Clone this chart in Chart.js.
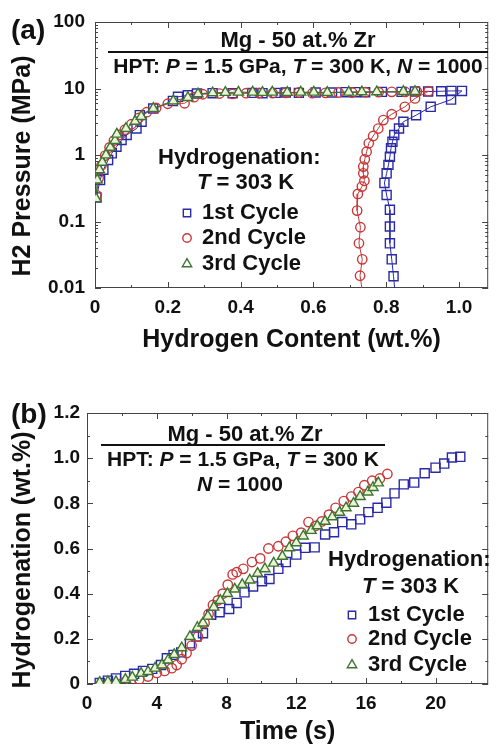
<!DOCTYPE html>
<html>
<head>
<meta charset="utf-8">
<script src="https://cdn.jsdelivr.net/npm/chart.js@4.4.1/dist/chart.umd.min.js"></script>
<style>
  html, body { margin: 0; padding: 0; background: #fff; }
  #wrap { position: relative; width: 496px; height: 746px; }
  canvas { position: absolute; left: 0; }
</style>
</head>
<body>
<div id="wrap">
  <canvas id="chartA" width="496" height="372" style="top:0"></canvas>
  <canvas id="chartB" width="496" height="374" style="top:372px"></canvas>
</div>
<script>
// (a) hydrogen content (wt.%) vs H2 pressure (MPa)
const contA1 = [0.004, 0.014, 0.023, 0.036, 0.046, 0.059, 0.073, 0.087, 0.114, 0.128, 0.123, 0.160, 0.214, 0.228, 0.255,
  0.280, 0.323, 0.378, 0.432, 0.460, 0.496, 0.524, 0.560, 0.606, 0.651, 0.688, 0.715, 0.742, 0.788, 0.842, 0.879, 0.915,
  0.951, 0.979, 1.008, 0.978, 0.922, 0.882, 0.847, 0.835, 0.822, 0.817, 0.813, 0.810, 0.806, 0.801, 0.795, 0.801, 0.810,
  0.810, 0.810, 0.815, 0.820, 0.823];
const presA1 = [0.23, 0.42, 0.60, 0.84, 1.06, 1.33, 1.68, 2.0, 2.5, 3.16, 3.98, 5.0, 6.5, 7.5, 7.9,
  8.4, 8.5, 8.5, 8.6, 8.5, 8.6, 8.7, 8.6, 8.7, 8.7, 8.8, 8.8, 8.8, 8.9, 8.9, 9.0, 9.0,
  9.1, 9.2, 9.2, 6.8, 5.3, 3.97, 3.16, 2.5, 2.0, 1.58, 1.26, 0.94, 0.71, 0.53, 0.38, 0.25, 0.15,
  0.084, 0.047, 0.027, 0.015, 0.01];

const contA2 = [0.004, 0.010, 0.018, 0.028, 0.040, 0.052, 0.066, 0.082, 0.100, 0.120, 0.142, 0.168, 0.200, 0.246, 0.272,
  0.296, 0.342, 0.378, 0.415, 0.451, 0.488, 0.524, 0.560, 0.597, 0.633, 0.669, 0.706, 0.742, 0.779, 0.815, 0.852, 0.884,
  0.916, 0.879, 0.851, 0.815, 0.792, 0.778, 0.764, 0.752, 0.746, 0.741, 0.737, 0.737, 0.740, 0.733, 0.722, 0.720, 0.729,
  0.725, 0.734, 0.728, 0.733];
const presA2 = [0.25, 0.45, 0.70, 0.98, 1.30, 1.65, 2.0, 2.4, 2.9, 3.6, 4.4, 5.1, 5.9, 6.0, 7.4,
  8.2, 8.4, 8.3, 8.5, 8.6, 8.5, 8.6, 8.7, 8.5, 8.6, 8.7, 8.7, 8.8, 8.8, 8.9, 8.9, 9.0,
  9.1, 7.1, 5.3, 4.1, 3.35, 2.5, 1.93, 1.5, 1.12, 0.86, 0.67, 0.53, 0.41, 0.335, 0.26, 0.146, 0.082,
  0.047, 0.027, 0.0153, 0.01];

const contA3 = [0.003, 0.006, 0.012, 0.020, 0.030, 0.042, 0.055, 0.060, 0.085, 0.110, 0.127, 0.160, 0.215, 0.255, 0.283,
  0.323, 0.358, 0.394, 0.433, 0.460, 0.487, 0.528, 0.565, 0.601, 0.638, 0.697, 0.733, 0.774, 0.847, 0.879];
const presA3 = [0.22, 0.42, 0.60, 0.78, 1.0, 1.3, 1.65, 2.05, 2.5, 3.2, 3.8, 5.0, 6.5, 7.3, 8.3,
  8.6, 8.7, 8.8, 8.8, 8.7, 8.8, 8.7, 8.8, 8.8, 8.7, 8.8, 8.9, 8.9, 9.0, 9.0];

// (b) time (s) vs hydrogenation (wt.%)
const timeB1 = [0.73, 1.2, 1.66, 2.19, 2.7, 3.21, 3.74, 4.24, 4.58, 4.96, 5.4, 5.9, 6.27, 6.65, 7.12, 7.6, 8.15, 8.58,
  9.03, 9.52, 10.03, 10.46, 10.97, 11.4, 12.0, 12.5, 13.05, 13.65, 14.16, 14.63, 15.15, 15.66, 16.13, 16.66, 17.16,
  17.63, 18.16, 18.76, 19.36, 19.98, 20.48, 20.92, 21.4];
const hydB1 = [0.004, 0.015, 0.025, 0.036, 0.045, 0.058, 0.067, 0.084, 0.114, 0.129, 0.14, 0.18, 0.21, 0.225, 0.307,
  0.318, 0.332, 0.359, 0.406, 0.432, 0.455, 0.465, 0.51, 0.54, 0.573, 0.603, 0.605, 0.662, 0.672, 0.717, 0.707, 0.729,
  0.761, 0.78, 0.803, 0.844, 0.884, 0.892, 0.933, 0.958, 0.976, 1.003, 1.006];

const timeB2 = [2.05, 2.5, 3.0, 3.5, 4.0, 4.45, 4.86, 5.14, 5.43, 5.71, 6.0, 6.36, 6.74, 6.97, 7.22, 7.5, 7.78, 8.07,
  8.35, 8.58, 8.96, 9.46, 9.93, 10.4, 10.97, 11.4, 11.8, 12.28, 12.7, 13.1, 13.46, 13.87, 14.25, 14.72, 15.15, 15.56,
  15.9, 16.35, 16.79, 17.22];
const hydB2 = [0.004, 0.01, 0.021, 0.033, 0.049, 0.058, 0.07, 0.084, 0.11, 0.137, 0.17, 0.21, 0.27, 0.31, 0.35, 0.37,
  0.40, 0.44, 0.485, 0.495, 0.51, 0.54, 0.556, 0.60, 0.61, 0.63, 0.656, 0.67, 0.717, 0.70, 0.72, 0.75, 0.78, 0.81,
  0.83, 0.85, 0.88, 0.90, 0.91, 0.93];

const timeB3 = [0.73, 1.2, 1.66, 2.2, 2.6, 3.1, 3.5, 3.9, 4.3, 4.65, 5.0, 5.43, 5.9, 6.33, 6.65, 6.93, 7.27, 7.64, 8.05,
  8.47, 8.9, 9.33, 9.78, 10.2, 10.7, 11.2, 11.6, 12.0, 12.4, 12.85, 13.2, 13.65, 14.06, 14.48, 14.85, 15.28, 15.66,
  16.1, 16.4, 16.7];
const hydB3 = [0.007, 0.01, 0.01, 0.02, 0.03, 0.047, 0.055, 0.07, 0.084, 0.106, 0.13, 0.16, 0.21, 0.25, 0.27, 0.30,
  0.34, 0.37, 0.40, 0.42, 0.44, 0.46, 0.49, 0.51, 0.535, 0.565, 0.603, 0.625, 0.655, 0.68, 0.70, 0.72, 0.74, 0.76,
  0.78, 0.80, 0.83, 0.85, 0.87, 0.89];

const seriesNames = ["1st Cycle", "2nd Cycle", "3rd Cycle"];

// ticks
const xTicksA = [0, 0.2, 0.4, 0.6, 0.8, 1.0];
const xLabelsA = ["0", "0.2", "0.4", "0.6", "0.8", "1.0"];
const xMinorA = [0.1, 0.3, 0.5, 0.7, 0.9];
const yTicksA = [0.01, 0.1, 1, 10, 100];
const yLabelsA = ["0.01", "0.1", "1", "10", "100"];
const xTicksB = [0, 4, 8, 12, 16, 20];
const xLabelsB = ["0", "4", "8", "12", "16", "20"];
const xMinorB = [2, 6, 10, 14, 18, 22];
const yTicksB = [0, 0.2, 0.4, 0.6, 0.8, 1.0, 1.2];
const yLabelsB = ["0", "0.2", "0.4", "0.6", "0.8", "1.0", "1.2"];
const yMinorB = [0.1, 0.3, 0.5, 0.7, 0.9, 1.1];

const yMinorA = [];
yTicksA.slice(0, -1).forEach(d => { for (let k = 2; k <= 9; k++) yMinorA.push(d * k); });

const FONT = "'Liberation Sans', Arial, sans-serif";
const INK = "#111";
const BLUE = "#2a2aa8";
const RED = "#c83838";
const GREEN = "#3c7530";
const GREEN_FILL = "#eef3d8";

const pts = (xs, ys) => xs.map((x, i) => ({ x: x, y: ys[i] }));

// frame with inward ticks on all four sides
const framePlugin = {
  id: "frame",
  beforeDatasetsDraw(chart, args, o) {
    const { ctx, chartArea: a, scales } = chart;
    ctx.save();
    ctx.strokeStyle = "#444";
    ctx.lineWidth = 1;
    ctx.strokeRect(a.left + 0.5, a.top + 0.5, a.right - a.left - 1, a.bottom - a.top - 1);
    const xt = (vals, len) => vals.forEach(v => {
      const p = Math.round(scales.x.getPixelForValue(v)) + 0.5;
      ctx.beginPath();
      ctx.moveTo(p, a.bottom); ctx.lineTo(p, a.bottom - len);
      ctx.moveTo(p, a.top); ctx.lineTo(p, a.top + len);
      ctx.stroke();
    });
    const yt = (vals, len) => vals.forEach(v => {
      const p = Math.round(scales.y.getPixelForValue(v)) + 0.5;
      ctx.beginPath();
      ctx.moveTo(a.left, p); ctx.lineTo(a.left + len, p);
      ctx.moveTo(a.right, p); ctx.lineTo(a.right - len, p);
      ctx.stroke();
    });
    xt(o.xMajor, 6); xt(o.xMinor, 3);
    yt(o.yMajor, 6); yt(o.yMinor, 3);
    ctx.restore();
  }
};

function drawText(ctx, parts, x, y, size, align) {
  const fontFor = it => (it ? "italic " : "") + "bold " + size + "px " + FONT;
  let w = 0;
  parts.forEach(p => { ctx.font = fontFor(p[1]); w += ctx.measureText(p[0]).width; });
  let cx = align === "center" ? x - w / 2 : x;
  ctx.textBaseline = "middle";
  ctx.textAlign = "left";
  ctx.fillStyle = INK;
  parts.forEach(p => {
    ctx.font = fontFor(p[1]);
    ctx.fillText(p[0], cx, y);
    cx += ctx.measureText(p[0]).width;
  });
}

function drawYTitle(ctx, text, x, y) {
  ctx.save();
  ctx.translate(x, y);
  ctx.rotate(-Math.PI / 2);
  ctx.font = "bold 25px " + FONT;
  ctx.fillStyle = INK;
  ctx.textAlign = "center";
  ctx.textBaseline = "middle";
  ctx.fillText(text, 0, 0);
  ctx.restore();
}

// marker looks: data size and legend size
const markerStyles = [
  { pointStyle: "rect", radius: 6.4, legend: 5.2, color: BLUE, fill: "rgba(255,255,255,0)" },
  { pointStyle: "circle", radius: 4.7, legend: 4.2, color: RED, fill: "rgba(255,255,255,0)" },
  { pointStyle: "triangle", radius: 5.8, legend: 5.4, color: GREEN, fill: GREEN_FILL }
];

function drawLegend(ctx, x0, ys, tx) {
  markerStyles.forEach((m, i) => {
    ctx.save();
    ctx.strokeStyle = m.color;
    ctx.fillStyle = "#fff";
    ctx.lineWidth = 1.4;
    Chart.helpers.drawPoint(ctx, { pointStyle: m.pointStyle, radius: m.legend, rotation: 0, borderWidth: 1.4 }, x0, ys[i]);
    ctx.restore();
    drawText(ctx, [[seriesNames[i], false]], tx, ys[i], 22, "left");
  });
}

function hline(ctx, x1, x2, y) {
  ctx.save();
  ctx.strokeStyle = INK;
  ctx.lineWidth = 2;
  ctx.beginPath(); ctx.moveTo(x1, y); ctx.lineTo(x2, y); ctx.stroke();
  ctx.restore();
}

const notesA = {
  id: "notesA",
  afterDraw(chart) {
    const ctx = chart.ctx;
    drawText(ctx, [["(a)", false]], 11, 31, 28, "left");
    drawYTitle(ctx, "H2 Pressure (MPa)", 23, 166);
    drawText(ctx, [["Mg - 50 at.% Zr", false]], 298, 41, 22, "center");
    hline(ctx, 108, 488, 52);
    drawText(ctx, [["HPT: ", false], ["P", true], [" = 1.5 GPa, ", false], ["T", true], [" = 300 K, ", false],
      ["N", true], [" = 1000", false]], 298, 67, 21, "center");
    drawText(ctx, [["Hydrogenation:", false]], 158, 158, 22, "left");
    drawText(ctx, [["T", true], [" = 303 K", false]], 197, 183, 22, "left");
    drawLegend(ctx, 187, [213, 238, 264], 202);
  }
};

const notesB = {
  id: "notesB",
  afterDraw(chart) {
    const ctx = chart.ctx;
    drawText(ctx, [["(b)", false]], 11, 43, 28, "left");
    drawYTitle(ctx, "Hydrogenation (wt.%)", 23, 188);
    drawText(ctx, [["Mg - 50 at.% Zr", false]], 245, 63, 22, "center");
    hline(ctx, 101, 385, 73);
    drawText(ctx, [["HPT: ", false], ["P", true], [" = 1.5 GPa, ", false], ["T", true], [" = 300 K", false]],
      243, 88, 21, "center");
    drawText(ctx, [["N", true], [" = 1000", false]], 240, 113, 21, "center");
    drawText(ctx, [["Hydrogenation:", false]], 328, 188, 22, "left");
    drawText(ctx, [["T", true], [" = 303 K", false]], 362, 215, 22, "left");
    drawLegend(ctx, 352, [243, 267, 293], 368);
  }
};

function dataset(i, data, withLine) {
  const m = markerStyles[i];
  return {
    label: seriesNames[i],
    data: data,
    order: 3 - i,
    showLine: withLine,
    borderColor: m.color,
    borderWidth: 1,
    pointStyle: m.pointStyle,
    // the curve runs on to the bottom axis; no marker on that end point
    pointRadius: ctx => (withLine && ctx.raw && ctx.raw.y <= 0.01) ? 0 : m.radius,
    pointBorderColor: m.color,
    pointBackgroundColor: m.fill,
    pointBorderWidth: 1.4
  };
}

const tickFont = { family: FONT, size: 19, weight: "bold" };
const titleFont = { family: FONT, size: 25, weight: "bold", lineHeight: 1.0 };

function axis(opts) {
  return Object.assign({
    grid: { display: false, drawTicks: false },
    border: { display: false }
  }, opts);
}

new Chart(document.getElementById("chartA"), {
  type: "scatter",
  data: {
    datasets: [
      dataset(0, pts(contA1, presA1), true),
      dataset(1, pts(contA2, presA2), true),
      dataset(2, pts(contA3, presA3), true)
    ]
  },
  options: {
    responsive: false,
    animation: false,
    events: [],
    layout: { padding: { top: 22, right: 6, left: 0, bottom: 0 } },
    plugins: {
      legend: { display: false },
      tooltip: { enabled: false },
      frame: { xMajor: xTicksA, xMinor: xMinorA, yMajor: yTicksA, yMinor: yMinorA }
    },
    scales: {
      x: axis({
        type: "linear", min: 0, max: 1.08,
        afterBuildTicks: s => { s.ticks = xTicksA.map(v => ({ value: v })); },
        ticks: { callback: (v, i) => xLabelsA[i], font: tickFont, color: INK, padding: 8, maxRotation: 0, autoSkip: false },
        title: { display: true, text: "Hydrogen Content (wt.%)", font: titleFont, color: INK, padding: { top: 0, bottom: 19 } },
        afterFit: s => { s.height = 84; }
      }),
      y: axis({
        type: "logarithmic", min: 0.01, max: 100,
        afterBuildTicks: s => { s.ticks = yTicksA.map(v => ({ value: v })); },
        ticks: { callback: (v, i) => yLabelsA[i], font: tickFont, color: INK, padding: 10, autoSkip: false },
        afterFit: s => { s.width = 95; }
      })
    }
  },
  plugins: [framePlugin, notesA]
});

new Chart(document.getElementById("chartB"), {
  type: "scatter",
  data: {
    datasets: [
      dataset(0, pts(timeB1, hydB1), false),
      dataset(1, pts(timeB2, hydB2), false),
      dataset(2, pts(timeB3, hydB3), false)
    ]
  },
  options: {
    responsive: false,
    animation: false,
    events: [],
    layout: { padding: { top: 41, right: 2, left: 0, bottom: 0 } },
    plugins: {
      legend: { display: false },
      tooltip: { enabled: false },
      frame: { xMajor: xTicksB, xMinor: xMinorB, yMajor: yTicksB, yMinor: yMinorB }
    },
    scales: {
      x: axis({
        type: "linear", min: 0, max: 23,
        afterBuildTicks: s => { s.ticks = xTicksB.map(v => ({ value: v })); },
        ticks: { callback: (v, i) => xLabelsB[i], font: tickFont, color: INK, padding: 8, maxRotation: 0, autoSkip: false },
        title: { display: true, text: "Time (s)", font: titleFont, color: INK, padding: { top: 0, bottom: 1 } },
        afterFit: s => { s.height = 62; }
      }),
      y: axis({
        type: "linear", min: 0, max: 1.2,
        afterBuildTicks: s => { s.ticks = yTicksB.map(v => ({ value: v })); },
        ticks: { callback: (v, i) => yLabelsB[i], font: tickFont, color: INK, padding: 7, autoSkip: false },
        afterFit: s => { s.width = 87; }
      })
    }
  },
  plugins: [framePlugin, notesB]
});
</script>
</body>
</html>
